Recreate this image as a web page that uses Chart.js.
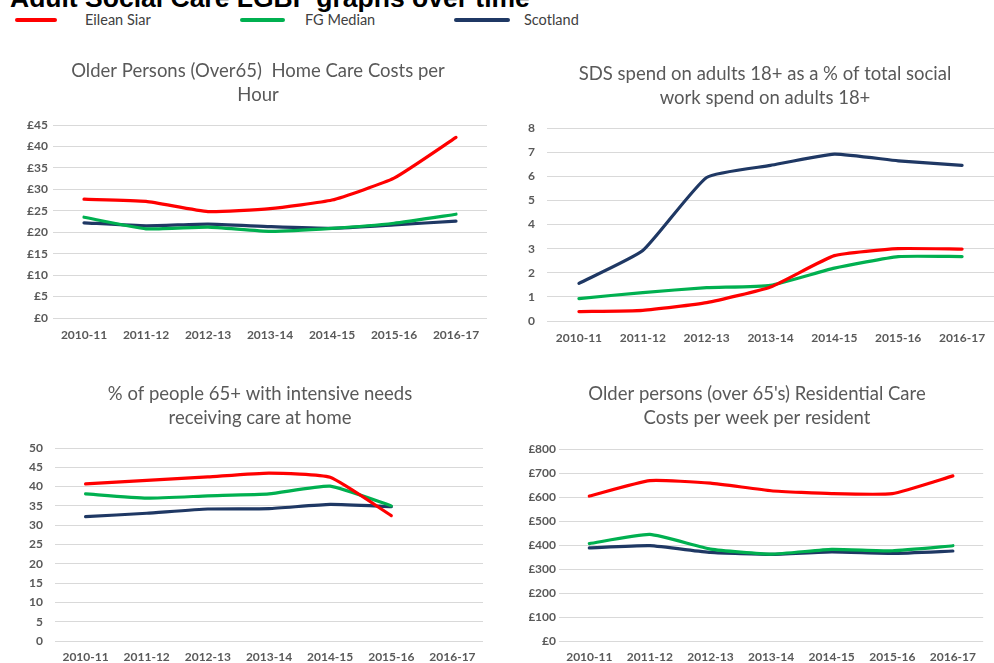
<!DOCTYPE html>
<html>
<head>
<meta charset="utf-8">
<script src="https://cdn.jsdelivr.net/npm/chart.js@4/dist/chart.umd.min.js"></script>
<style>
  html, body { margin: 0; padding: 0; background: #fff; width: 994px; height: 663px; overflow: hidden; position: relative; }
  .pageTitle { position: absolute; left: 10px; top: -15px; font: bold 26.5px "Liberation Sans", Arial, sans-serif; line-height: 27px; color: #000; white-space: nowrap; }
  .lg { position: absolute; font: 14.5px Lato, "Open Sans", sans-serif; color: #404040; top: 11px; line-height: 18px; white-space: nowrap; }
  .sw { position: absolute; height: 4px; top: 18px; border-radius: 2px; }
  canvas { position: absolute; }
</style>
</head>
<body>
<div class="pageTitle">Adult Social Care LGBF graphs over time</div>
<div class="sw" style="left:15px;width:42px;background:#FF0000"></div>
<div class="lg" style="left:85px">Eilean Siar</div>
<div class="sw" style="left:240px;width:45px;background:#00B050"></div>
<div class="lg" style="left:305px">FG Median</div>
<div class="sw" style="left:454px;width:56px;background:#1F3864"></div>
<div class="lg" style="left:524px">Scotland</div>

<canvas id="c1" width="516" height="295" style="left:0px;top:50px"></canvas>
<canvas id="c2" width="510" height="298" style="left:510px;top:50px"></canvas>
<canvas id="c3" width="520" height="293" style="left:0px;top:370px"></canvas>
<canvas id="c4" width="456" height="293" style="left:529px;top:370px"></canvas>

<script>
// ---- data ----
const categories = ['2010-11','2011-12','2012-13','2013-14','2014-15','2015-16','2016-17'];
const seriesNames = ['Eilean Siar','FG Median','Scotland'];

const homeCareEilean = [27.7, 27.2, 24.8, 25.5, 27.5, 32.6, 42.1];
const homeCareFG     = [23.5, 20.8, 21.2, 20.2, 20.9, 22.1, 24.2];
const homeCareScot   = [22.2, 21.5, 21.9, 21.3, 20.9, 21.7, 22.6];

const sdsEilean = [0.39, 0.44, 0.76, 1.41, 2.71, 3.00, 2.98];
const sdsFG     = [0.93, 1.18, 1.38, 1.48, 2.19, 2.67, 2.67];
const sdsScot   = [1.56, 2.92, 5.95, 6.45, 6.92, 6.64, 6.45];

const intensiveEilean = [40.7, 41.6, 42.5, 43.5, 42.4, 32.5, null];
const intensiveFG     = [38.1, 37.0, 37.6, 38.1, 40.1, 35.0, null];
const intensiveScot   = [32.2, 33.1, 34.2, 34.3, 35.4, 34.8, null];

const residentialEilean = [604, 668, 658, 626, 614, 614, 688];
const residentialFG     = [406, 444, 383, 362, 382, 376, 397];
const residentialScot   = [388, 397, 369, 361, 371, 365, 375];

const title1 = ['Older Persons (Over65)  Home Care Costs per', 'Hour'];
const title2 = ['SDS spend on adults 18+ as a % of total social', 'work spend on adults 18+'];
const title3 = ['% of people 65+ with intensive needs', 'receiving care at home'];
const title4 = ["Older persons (over 65's) Residential Care", 'Costs per week per resident'];

// ---- styles ----
const colors = ['#FF0000', '#00B050', '#1F3864'];
const FONT = 'Lato, "Open Sans", sans-serif';
const GREY = '#595959';

function makeChart(id, title, data, yMin, yMax, yStep, prefix, opts) {
  const datasets = data.map((d, i) => ({
    label: seriesNames[i],
    data: d,
    yAxisID: 'y',
    borderColor: colors[i],
    backgroundColor: colors[i],
    borderWidth: 3.2,
    pointRadius: 0,
    tension: 0.15,
    borderCapStyle: 'round',
    borderJoinStyle: 'round',
    spanGaps: false
  }));
  return new Chart(document.getElementById(id), {
    type: 'line',
    data: { labels: categories, datasets: datasets },
    options: {
      responsive: false,
      animation: false,
      devicePixelRatio: 1,
      layout: { padding: 0 },
      plugins: {
        legend: { display: false },
        tooltip: { enabled: false },
        title: {
          display: true,
          text: title,
          color: GREY,
          font: { family: FONT, size: 18.5, weight: 'normal', lineHeight: 1.3 },
          padding: { top: opts.tTop, bottom: opts.tBottom }
        }
      },
      scales: {
        x: {
          offset: true,
          grid: { display: false, drawTicks: false },
          border: { display: false },
          ticks: { color: GREY, font: { family: FONT, size: 12, weight: 'bold' }, padding: opts.xPad, maxRotation: 0, autoSkip: false },
          afterFit: s => { s.height = opts.xH; }
        },
        y: {
          min: yMin, max: yMax,
          grid: { color: '#D9D9D9', lineWidth: 1, drawTicks: false },
          border: { display: false },
          ticks: {
            stepSize: yStep,
            color: GREY,
            font: { family: FONT, size: 12, weight: 'bold' },
            padding: opts.yPad,
            callback: v => prefix + v
          },
          afterFit: s => { s.width = opts.yW; }
        },
        // empty spacer on the right so the title stays centred on the whole panel
        spacer: {
          type: 'linear',
          position: 'right',
          display: opts.right > 0,
          grid: { display: false, drawTicks: false },
          border: { display: false },
          ticks: { display: false },
          afterFit: s => { s.width = opts.right; }
        }
      }
    }
  });
}

// title block height = tTop + 2*18.5*1.3 (48.1) + tBottom
makeChart('c1', title1, [homeCareEilean, homeCareFG, homeCareScot], 0, 45, 5, '£',
  { right: 29, tTop: 9, tBottom: 17.9, xPad: 10, xH: 27, yPad: 5, yW: 53 });
makeChart('c2', title2, [sdsEilean, sdsFG, sdsScot], 0, 8, 1, '',
  { right: 26, tTop: 12, tBottom: 17.9, xPad: 10, xH: 27, yPad: 12, yW: 37 });
makeChart('c3', title3, [intensiveEilean, intensiveFG, intensiveScot], 0, 50, 5, '',
  { right: 37, tTop: 12, tBottom: 17.9, xPad: 9, xH: 22, yPad: 12, yW: 55 });
makeChart('c4', title4, [residentialEilean, residentialFG, residentialScot], 0, 800, 100, '£',
  { right: 0, tTop: 12, tBottom: 18.9, xPad: 9, xH: 22, yPad: 3, yW: 30 });
</script>
</body>
</html>
